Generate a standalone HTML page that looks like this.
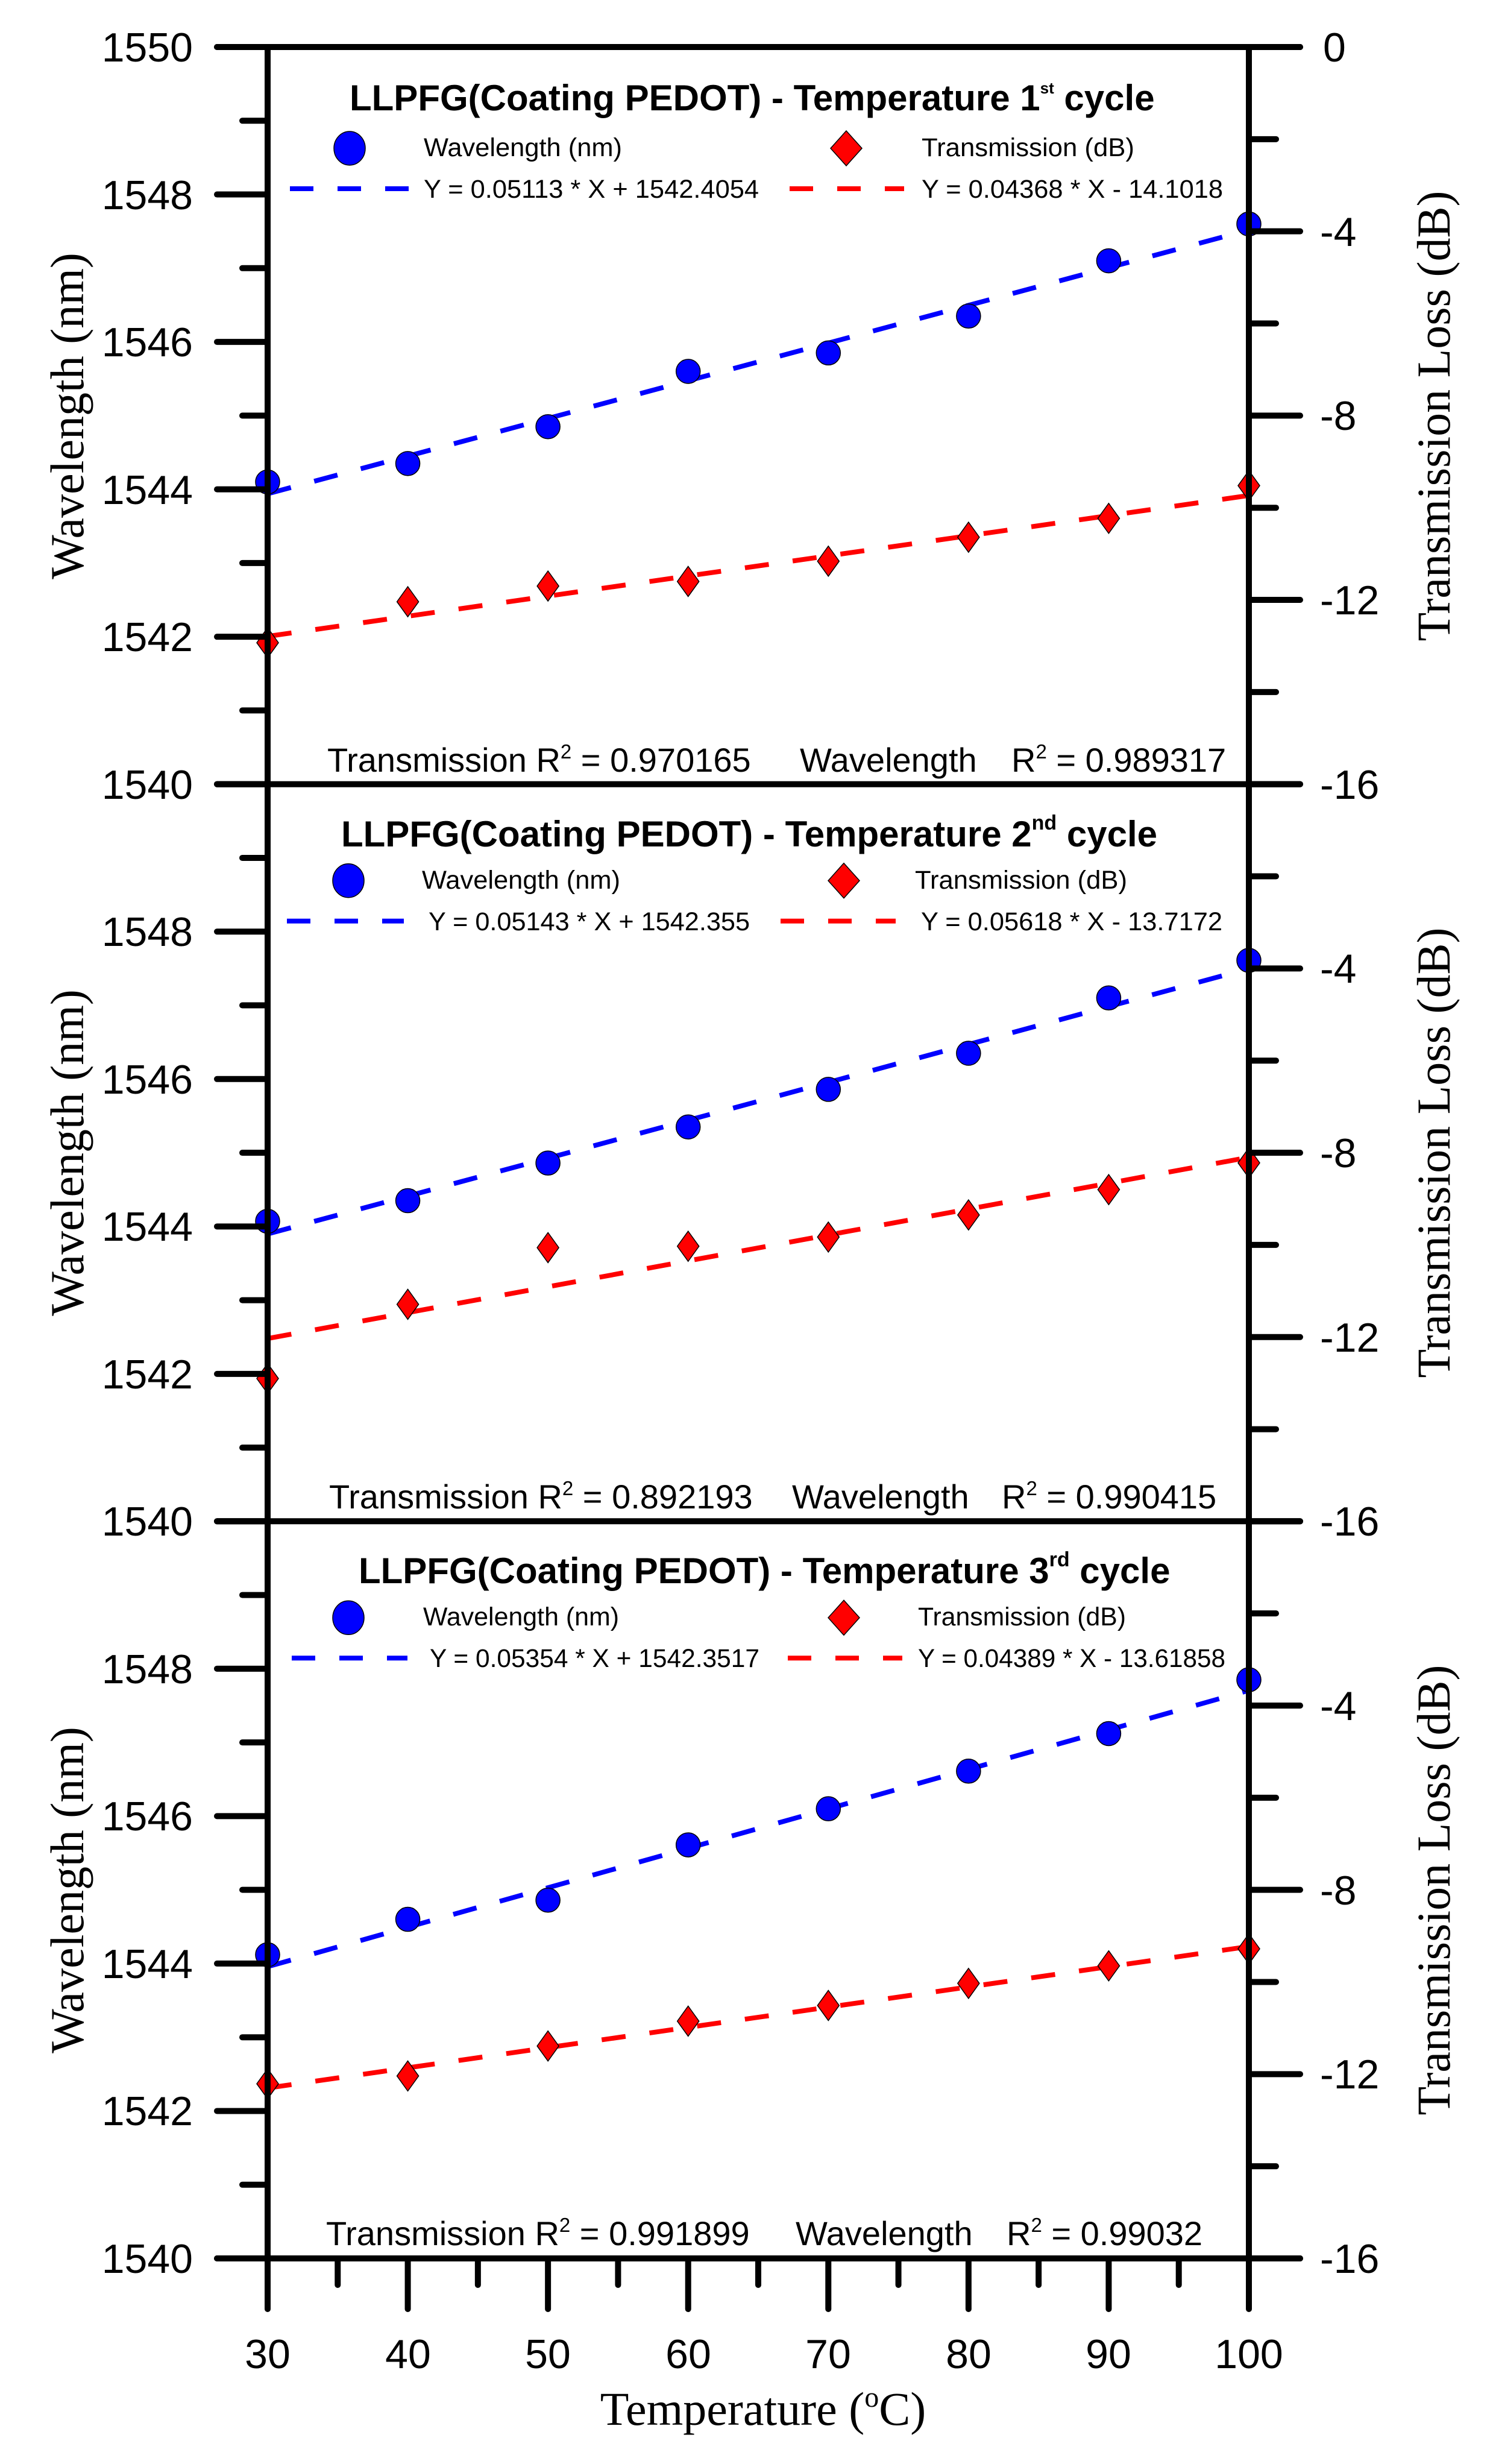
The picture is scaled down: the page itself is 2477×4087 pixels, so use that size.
<!DOCTYPE html>
<html><head><meta charset="utf-8"><style>html,body{margin:0;padding:0;background:#fff}svg{display:block}</style></head>
<body>
<svg id="s" xmlns="http://www.w3.org/2000/svg" width="2477" height="4087" viewBox="0 0 2477 4087">
<rect width="2477" height="4087" fill="#fff"/>
<g id="geo"></g>
<g font-family="Liberation Sans, Arial, sans-serif" font-size="68" fill="#000">
<g text-anchor="end">
<text x="320" y="102">1550</text><text x="320" y="347">1548</text><text x="320" y="591">1546</text><text x="320" y="836">1544</text><text x="320" y="1080">1542</text><text x="320" y="1325">1540</text>
<text x="320" y="1569">1548</text><text x="320" y="1814">1546</text><text x="320" y="2058">1544</text><text x="320" y="2303">1542</text><text x="320" y="2547">1540</text>
<text x="320" y="2792">1548</text><text x="320" y="3036">1546</text><text x="320" y="3281">1544</text><text x="320" y="3525">1542</text><text x="320" y="3770">1540</text>
</g>
<g text-anchor="start">
<text x="2195" y="102">0</text><text x="2190" y="408">-4</text><text x="2190" y="713">-8</text><text x="2190" y="1019">-12</text><text x="2190" y="1325">-16</text>
<text x="2190" y="1630">-4</text><text x="2190" y="1936">-8</text><text x="2190" y="2242">-12</text><text x="2190" y="2547">-16</text>
<text x="2190" y="2853">-4</text><text x="2190" y="3159">-8</text><text x="2190" y="3464">-12</text><text x="2190" y="3770">-16</text>
</g>
<g text-anchor="middle">
<text x="444" y="3928">30</text><text x="677" y="3928">40</text><text x="909" y="3928">50</text><text x="1142" y="3928">60</text><text x="1374" y="3928">70</text><text x="1607" y="3928">80</text><text x="1839" y="3928">90</text><text x="2072" y="3928">100</text>
</g>
</g>
<g font-family="Liberation Serif, Times New Roman, serif" font-size="78" fill="#000" text-anchor="middle">
<text transform="translate(138,690) rotate(-90)">Wavelength (nm)</text>
<text transform="translate(138,1912) rotate(-90)">Wavelength (nm)</text>
<text transform="translate(138,3135) rotate(-90)">Wavelength (nm)</text>
<text transform="translate(2405,690) rotate(-90)">Transmission Loss (dB)</text>
<text transform="translate(2405,1912) rotate(-90)">Transmission Loss (dB)</text>
<text transform="translate(2405,3135) rotate(-90)">Transmission Loss (dB)</text>
<text x="1266" y="4022">Temperature (<tspan font-size="48" dy="-30">o</tspan><tspan dy="30">C)</tspan></text>
</g>
<g font-family="Liberation Sans, Arial, sans-serif" fill="#000">
<text x="580" y="183" font-size="60" font-weight="bold">LLPFG(Coating PEDOT) - Temperature 1<tspan font-size="26" dy="-28">st</tspan><tspan dy="28"> cycle</tspan></text>
<text x="566" y="1404" font-size="60" font-weight="bold">LLPFG(Coating PEDOT) - Temperature 2<tspan font-size="34" dy="-28">nd</tspan><tspan dy="28"> cycle</tspan></text>
<text x="595" y="2626" font-size="60" font-weight="bold">LLPFG(Coating PEDOT) - Temperature 3<tspan font-size="34" dy="-28">rd</tspan><tspan dy="28"> cycle</tspan></text>
<g font-size="43">
<text x="703" y="259" textLength="329" lengthAdjust="spacingAndGlyphs">Wavelength (nm)</text>
<text x="1529" y="259" textLength="353" lengthAdjust="spacingAndGlyphs">Transmission (dB)</text>
<text x="703" y="328" textLength="556" lengthAdjust="spacingAndGlyphs">Y = 0.05113 * X + 1542.4054</text>
<text x="1529" y="328" textLength="500" lengthAdjust="spacingAndGlyphs">Y = 0.04368 * X - 14.1018</text>
<text x="700" y="1474" textLength="329" lengthAdjust="spacingAndGlyphs">Wavelength (nm)</text>
<text x="1518" y="1474" textLength="352" lengthAdjust="spacingAndGlyphs">Transmission (dB)</text>
<text x="711" y="1543" textLength="533" lengthAdjust="spacingAndGlyphs">Y = 0.05143 * X + 1542.355</text>
<text x="1528" y="1543" textLength="500" lengthAdjust="spacingAndGlyphs">Y = 0.05618 * X - 13.7172</text>
<text x="702" y="2696" textLength="325" lengthAdjust="spacingAndGlyphs">Wavelength (nm)</text>
<text x="1523" y="2696" textLength="345" lengthAdjust="spacingAndGlyphs">Transmission (dB)</text>
<text x="713" y="2765" textLength="547" lengthAdjust="spacingAndGlyphs">Y = 0.05354 * X + 1542.3517</text>
<text x="1523" y="2765" textLength="510" lengthAdjust="spacingAndGlyphs">Y = 0.04389 * X - 13.61858</text>
</g>
<g font-size="56">
<text x="543" y="1280">Transmission R<tspan font-size="33" dy="-22">2</tspan><tspan dy="22"> = 0.970165</tspan></text>
<text x="1327" y="1280">Wavelength</text>
<text x="1678" y="1280">R<tspan font-size="33" dy="-22">2</tspan><tspan dy="22"> = 0.989317</tspan></text>
<text x="546" y="2502">Transmission R<tspan font-size="33" dy="-22">2</tspan><tspan dy="22"> = 0.892193</tspan></text>
<text x="1314" y="2502">Wavelength</text>
<text x="1662" y="2502">R<tspan font-size="33" dy="-22">2</tspan><tspan dy="22"> = 0.990415</tspan></text>
<text x="541" y="3724">Transmission R<tspan font-size="33" dy="-22">2</tspan><tspan dy="22"> =  0.991899</tspan></text>
<text x="1320" y="3724">Wavelength</text>
<text x="1670" y="3724">R<tspan font-size="33" dy="-22">2</tspan><tspan dy="22"> = 0.99032</tspan></text>
</g>
</g>
</svg>
<script>
(function(){
var NS="http://www.w3.org/2000/svg",g=document.getElementById("geo");
function el(t,a){var e=document.createElementNS(NS,t);for(var k in a)e.setAttribute(k,a[k]);g.appendChild(e);return e;}
var Ts=[78,1300.7,2523.3],PH=1222.7;
function X(t){return 444+(t-30)*23.257;}
function YW(T,v){return T+(1550-v)*PH/10;}
function YD(T,d){return T+(-d)*PH/16;}
var data=[
 {w:[1544.1,1544.35,1544.85,1545.6,1545.85,1546.35,1547.1,1547.6],d:[-12.93,-12.04,-11.7,-11.6,-11.16,-10.64,-10.23,-9.52],wf:[0.05113,1542.4054],df:[0.04368,-14.1018]},
 {w:[1544.07,1544.35,1544.86,1545.35,1545.86,1546.35,1547.1,1547.61],d:[-12.9,-11.29,-10.06,-10.03,-9.83,-9.35,-8.8,-8.22],wf:[0.05143,1542.355],df:[0.05618,-13.7172]},
 {w:[1544.12,1544.6,1544.86,1545.61,1546.1,1546.61,1547.12,1547.85],d:[-12.21,-12.04,-11.39,-10.85,-10.51,-10.03,-9.65,-9.28],wf:[0.05354,1542.3517],df:[0.04389,-13.61858]}
];
var leg=[[580,1404,481,683,1310,1500],[578,1400,476,670,1295,1486],[578,1400,484,676,1307,1497]];
var lo=[8,0,0];
var S={stroke:"#000","stroke-width":10,"stroke-linecap":"round"};
function line(x1,y1,x2,y2,o){var a={x1:x1,y1:y1,x2:x2,y2:y2};for(var k in o)a[k]=o[k];return el("line",a);}
Ts.forEach(function(T,i){
 var D=data[i];
 line(X(30),YW(T,D.wf[0]*30+D.wf[1]),X(100),YW(T,D.wf[0]*100+D.wf[1]),{stroke:"#00f","stroke-width":8,"stroke-dasharray":"40 40"});
 line(X(30),YD(T,D.df[0]*30+D.df[1]),X(100),YD(T,D.df[0]*100+D.df[1]),{stroke:"#f00","stroke-width":8,"stroke-dasharray":"40 40"});
 var L=leg[i],Q=T+lo[i];
 el("ellipse",{cx:L[0],cy:Q+160,rx:26,ry:28,fill:"#00f",stroke:"#000","stroke-width":1.5});
 el("polygon",{points:(L[1])+","+(Q+131)+" "+(L[1]+26)+","+(Q+160)+" "+L[1]+","+(Q+189)+" "+(L[1]-26)+","+(Q+160),fill:"#f00",stroke:"#000","stroke-width":1.5});
 line(L[2],Q+227,L[3],Q+227,{stroke:"#00f","stroke-width":8,"stroke-dasharray":"39 40"});
 line(L[4],Q+227,L[5],Q+227,{stroke:"#f00","stroke-width":8,"stroke-dasharray":"39 40"});
 for(var j=0;j<8;j++){
  var x=X(30+10*j);
  el("circle",{cx:x,cy:YW(T,D.w[j]),r:20,fill:"#00f",stroke:"#000","stroke-width":1.5});
  var y=YD(T,D.d[j]);
  el("polygon",{points:x+","+(y-25)+" "+(x+18)+","+y+" "+x+","+(y+25)+" "+(x-18)+","+y,fill:"#f00",stroke:"#000","stroke-width":1.5});
 }
 for(var v=0;v<=10;v++){var yy=T+v*PH/10;line(v%2==0?360:402,yy,444,yy,S);}
 for(var k=0;k<=8;k++){var yy2=T+k*PH/8;line(2072,yy2,k%2==0?2157:2117,yy2,S);}
 line(360,T,2157,T,S);
});
line(360,3746,2157,3746,S);
line(444,78,444,3830,S);
line(2072,78,2072,3830,S);
for(var t=35;t<100;t+=5){line(X(t),3746,X(t),t%10==0?3830:3790,S);}
})();
</script>
</body></html>
